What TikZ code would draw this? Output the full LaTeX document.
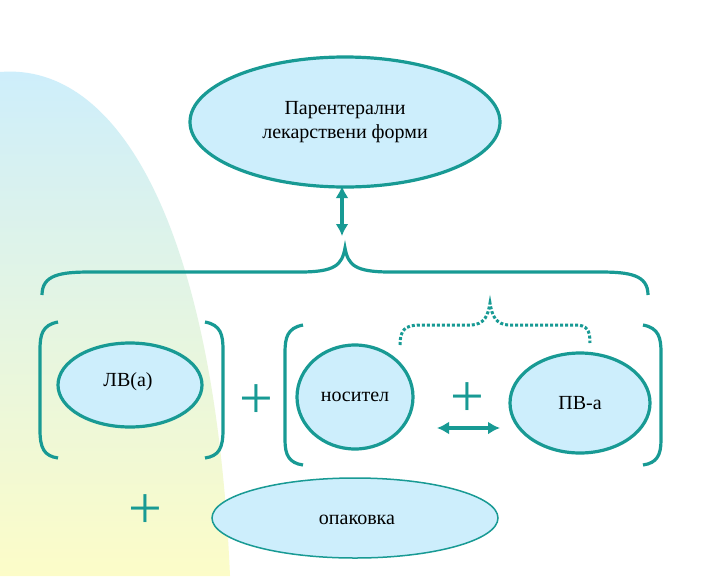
\documentclass[tikz,border=0pt]{standalone}
\usepackage{fontspec}
\setmainfont{Liberation Serif}
\newfontfamily\serf{Liberation Serif}
\usetikzlibrary{arrows.meta}
\definecolor{teal1}{HTML}{189A94}
\definecolor{fillb}{HTML}{CDEEFC}
\begin{document}
\begin{tikzpicture}[x=1pt,y=-1pt,
  ell/.style={draw=teal1,line width=3.2pt,fill=fillb},
  br/.style={draw=teal1,line width=3.2pt},
  dbl/.style={draw=teal1,line width=4pt,{Latex[length=12pt,width=13pt]}-{Latex[length=12pt,width=13pt]}},
  lbl/.style={font=\serf\fontsize{20}{24}\selectfont,align=center},
  plus/.style={font=\serf\fontsize{60}{60}\selectfont,text=teal1}]
\useasboundingbox (0,0) rectangle (720,576);
\fill[white] (0,0) rectangle (720,576);
\shade[top color=fillb,bottom color={rgb,255:red,252;green,252;blue,200}]
  (0,72) .. controls (120,62) and (215,230) .. (230,576) -- (0,576) -- cycle;
% top ellipse
\draw[ell] (345,122) ellipse [x radius=155,y radius=65];
\node[lbl] (top) at (345,122) {Парентерални\\лекарствени форми};
\coordinate (a1) at (342,186); \coordinate (a2) at (342,236);
\draw[dbl] (a1) -- (a2);
% big brace
\draw[br] (42,295) .. controls (42,275) and (60,272) .. (90,272) -- (300,272)
  .. controls (335,272) and (342,265) .. (345,248)
  .. controls (348,265) and (355,272) .. (390,272) -- (600,272)
  .. controls (630,272) and (648,275) .. (648,295);
% dotted brace
\draw[teal1,line width=3pt,dotted] (400,345) .. controls (400,330) and (405,325) .. (420,325) -- (470,325)
  .. controls (485,325) and (488,315) .. (490,303)
  .. controls (492,315) and (495,325) .. (510,325) -- (575,325)
  .. controls (587,325) and (590,330) .. (590,343);
% brackets
\draw[br] (58,322) .. controls (42,325) and (40,335) .. (40,350) -- (40,430) .. controls (40,448) and (44,456) .. (58,458);
\draw[br] (205,322) .. controls (221,325) and (223,335) .. (223,350) -- (223,430) .. controls (223,448) and (219,456) .. (205,458);
\draw[br] (303,325) .. controls (287,328) and (285,338) .. (285,353) -- (285,440) .. controls (285,455) and (289,463) .. (303,465);
\draw[br] (643,325) .. controls (659,328) and (661,338) .. (661,353) -- (661,440) .. controls (661,455) and (657,463) .. (643,465);
% ellipses
\draw[ell] (130,385) ellipse [x radius=72,y radius=42];
\node[lbl] (lv) at (128,382) {ЛВ(а)};
\draw[ell] (355,397) ellipse [x radius=58,y radius=52];
\node[lbl] (nos) at (355,397) {носител};
\draw[ell] (580,403) ellipse [x radius=70,y radius=50];
\node[lbl] (pv) at (580,403) {ПВ-а};
\draw[draw=teal1,line width=1.5pt,fill=fillb] (355,518) ellipse [x radius=143,y radius=40];
\node[lbl] (op) at (357,520) {опаковка};
\node[plus] (p1) at (256,402) {+};
\node[plus] (p2) at (467,400) {+};
\node[plus] (p3) at (145,512) {+};
\coordinate (b1) at (437,428); \coordinate (b2) at (500,428);
\draw[dbl] (b1) -- (b2);
\end{tikzpicture}
\end{document}
